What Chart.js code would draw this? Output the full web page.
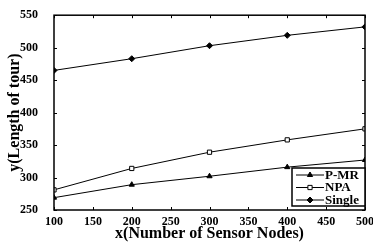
<!DOCTYPE html>
<html>
<head>
<meta charset="utf-8">
<script src="https://cdn.jsdelivr.net/npm/chart.js@4"></script>
<style>
  html, body { margin: 0; padding: 0; background: #fff; }
  #wrap { width: 373px; height: 243px; }
</style>
</head>
<body>
<div id="wrap"><canvas id="chart" width="373" height="243"></canvas></div>
<script>
const nodes = [100, 200, 300, 400, 500];
const pmr = [269, 289, 302, 316, 327];
const npa = [281, 314, 339, 358, 375];
const single = [465, 483, 503, 519, 532];
const xTitle = 'x(Number of Sensor Nodes)';
const yTitle = 'y(Length of tour)';

const serif = '"Liberation Serif", "DejaVu Serif", serif';

function toPoints(values) {
    return nodes.map((x, i) => ({ x: x, y: values[i] }));
}

// box round the plot, ticks pointing inwards, legend in the lower right corner
const boxPlugin = {
    id: 'box',
    afterDraw(chart) {
        const ctx = chart.ctx;
        const a = chart.chartArea;
        const xs = chart.scales.x;
        const ys = chart.scales.y;
        ctx.save();
        ctx.strokeStyle = '#000';
        ctx.lineWidth = 1.5;
        ctx.strokeRect(a.left, a.top, a.right - a.left, a.bottom - a.top);
        ctx.lineWidth = 1;
        xs.ticks.forEach(t => {
            const px = Math.round(xs.getPixelForValue(t.value)) + 0.5;
            ctx.beginPath();
            ctx.moveTo(px, a.bottom); ctx.lineTo(px, a.bottom - 3);
            ctx.moveTo(px, a.top); ctx.lineTo(px, a.top + 3);
            ctx.stroke();
        });
        ys.ticks.forEach(t => {
            const py = Math.round(ys.getPixelForValue(t.value)) + 0.5;
            ctx.beginPath();
            ctx.moveTo(a.left, py); ctx.lineTo(a.left + 3, py);
            ctx.moveTo(a.right, py); ctx.lineTo(a.right - 3, py);
            ctx.stroke();
        });

        // legend
        const bx = a.right - 73, by = a.bottom - 42, bw = 73, bh = 38;
        ctx.fillStyle = '#fff';
        ctx.fillRect(bx, by, bw, bh);
        ctx.lineWidth = 1.5;
        ctx.strokeRect(bx, by, bw, bh);
        ctx.font = 'bold 13px ' + serif;
        ctx.textBaseline = 'middle';
        chart.data.datasets.forEach((ds, i) => {
            const ry = by + 7 + i * 12.5;
            ctx.strokeStyle = '#000';
            ctx.lineWidth = 1;
            ctx.beginPath();
            ctx.moveTo(bx + 4, ry); ctx.lineTo(bx + 32, ry);
            ctx.stroke();
            ctx.fillStyle = ds.pointBackgroundColor;
            Chart.helpers.drawPoint(ctx, {
                pointStyle: ds.pointStyle,
                radius: ds.pointRadius,
                borderWidth: 1
            }, bx + 18, ry);
            ctx.fillStyle = '#000';
            ctx.fillText(ds.label, bx + 33, ry + 0.5);
        });
        ctx.restore();
    }
};

function makeDataset(label, values, style, fill) {
    return {
        label: label,
        data: toPoints(values),
        borderColor: '#000',
        borderWidth: 1,
        pointStyle: style,
        pointRadius: 3,
        pointBorderColor: '#000',
        pointBackgroundColor: fill,
        pointBorderWidth: 1,
        tension: 0
    };
}

new Chart(document.getElementById('chart').getContext('2d'), {
    type: 'line',
    data: {
        datasets: [
            makeDataset('P-MR', pmr, 'triangle', '#000'),
            makeDataset('NPA', npa, 'rect', '#fff'),
            makeDataset('Single', single, 'rectRot', '#000')
        ]
    },
    options: {
        responsive: false,
        animation: false,
        layout: { padding: { top: 13, right: 8, left: 5, bottom: 0 } },
        plugins: {
            legend: { display: false },
            tooltip: { enabled: false }
        },
        scales: {
            x: {
                type: 'linear',
                min: 100,
                max: 500,
                grid: { display: false },
                border: { display: false },
                ticks: {
                    stepSize: 50,
                    padding: -3,
                    maxRotation: 0,
                    color: '#000',
                    font: { family: serif, size: 12, weight: 'bold' }
                },
                title: {
                    display: true,
                    text: xTitle,
                    color: '#000',
                    padding: { top: 0, bottom: 0 },
                    font: { family: serif, size: 16, weight: 'bold' }
                },
                afterFit(scale) { scale.height = 33; }
            },
            y: {
                min: 250,
                max: 550,
                grid: { display: false },
                border: { display: false },
                ticks: {
                    stepSize: 50,
                    padding: 8,
                    color: '#000',
                    font: { family: serif, size: 12, weight: 'bold' }
                },
                title: {
                    display: true,
                    text: yTitle,
                    color: '#000',
                    padding: { top: 0, bottom: 0 },
                    font: { family: serif, size: 16, weight: 'bold' }
                },
                afterFit(scale) { scale.width = 49; }
            }
        }
    },
    plugins: [boxPlugin]
});
</script>
</body>
</html>
